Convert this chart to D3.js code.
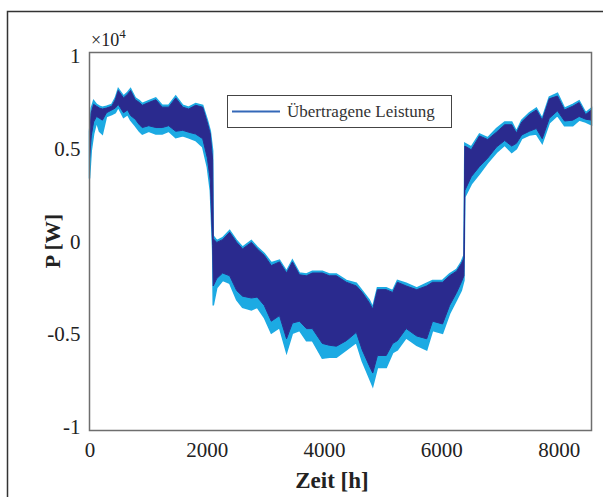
<!DOCTYPE html>
<html>
<head>
<meta charset="utf-8">
<script src="https://cdn.jsdelivr.net/npm/d3@7"></script>
<style>
  body { margin: 0; background: #fff; }
  svg { display: block; }
</style>
</head>
<body>
<svg></svg>
<script>
// Stunden im Jahr (Stützstellen)
let hours = [0, 30, 70, 120, 170, 220, 290, 380, 440, 490, 580, 650, 700, 780, 850, 900, 1010, 1130, 1240, 1350,
    1470, 1590, 1690, 1810, 1930, 2010, 2060, 2100, 2110, 2170, 2270, 2390, 2510, 2610, 2760, 2860, 2980, 3100,
    3240, 3360, 3460, 3580, 3700, 3800, 3970, 4090, 4210, 4380, 4550, 4650, 4770, 4830, 4910, 5060, 5170, 5250,
    5400, 5580, 5750, 5850, 6020, 6140, 6260, 6340, 6385, 6400, 6510, 6650, 6790, 6940, 7080, 7200, 7280, 7370,
    7500, 7620, 7720, 7840, 7980, 8100, 8240, 8350, 8460, 8560];

// äussere Hülle (hellblau), Leistung in W
let outerTop = [5950, 7200, 7600, 7400, 7300, 7250, 7300, 7400, 7750, 8250, 7850, 8050, 8250, 7750, 7600, 7450, 7600, 7750, 7350, 7350,
    7850, 7350, 7250, 7450, 7350, 6550, 5950, 4900, 300, 50, 200, 600, 50, -300, 50, -300, -650, -1150,
    -1000, -1600, -1000, -1700, -1750, -1600, -1600, -1750, -1750, -2100, -2250, -2650, -3150, -3550, -2500, -2500, -2650, -2100,
    -2250, -2500, -2250, -2100, -2100, -1750, -1500, -1100, -750, 5300, 5100, 5800, 5600, 6100, 6450, 6450, 5950, 6550,
    6950, 7200, 6650, 7800, 8000, 7200, 7400, 7600, 6950, 7200];
let outerBottom = [3400, 4900, 5800, 6450, 5950, 5800, 6750, 6850, 6950, 7250, 6700, 6850, 6550, 6250, 5950, 5800, 5950, 5800, 5800, 5950,
    5600, 5700, 5600, 5450, 5100, 4000, 2750, -500, -3450, -2500, -2100, -2250, -3150, -3550, -3700, -3550, -4100, -4950,
    -4650, -6000, -4950, -4800, -5350, -5350, -6300, -6250, -6250, -5850, -5450, -6450, -7350, -7800, -6800, -6800, -6000, -5850,
    -5200, -5600, -5850, -4800, -4950, -3900, -3150, -2650, -2100, 2400, 3100, 3650, 4250, 4800, 5200, 4800, 5000, 5550,
    5750, 5800, 5300, 6400, 6800, 6250, 6250, 6550, 6450, 6300];

// innere Hülle (dunkelblau)
let innerTop = [5700, 6950, 7400, 7300, 7200, 7150, 7200, 7300, 7650, 8150, 7750, 7950, 8150, 7650, 7500, 7350, 7500, 7650, 7250, 7250,
    7750, 7250, 7150, 7350, 7250, 6400, 5800, 4400, 150, -50, 100, 500, -50, -400, -50, -400, -750, -1300,
    -1100, -1700, -1100, -1800, -1850, -1700, -1700, -1850, -1850, -2200, -2400, -2750, -3300, -3650, -2600, -2600, -2750, -2200,
    -2400, -2600, -2400, -2200, -2200, -1850, -1600, -1200, -900, 5150, 4950, 5700, 5500, 5900, 6300, 6300, 5850, 6450,
    6850, 7100, 6550, 7700, 7850, 7100, 7300, 7500, 6850, 7100];
let innerBottom = [4400, 5700, 6450, 6750, 6650, 6550, 6950, 7100, 7200, 7400, 6950, 7100, 6800, 6600, 6300, 6150, 6250, 6150, 6150, 6250,
    5950, 6000, 5900, 5800, 5550, 4500, 3300, -200, -2400, -2000, -1700, -1850, -2650, -2950, -3050, -3000, -3450, -4300,
    -4000, -5250, -4400, -4300, -4700, -4700, -5500, -5600, -5650, -5350, -4900, -5850, -6700, -7100, -6150, -6150, -5500, -5350,
    -4700, -5100, -5250, -4300, -4450, -3450, -2750, -2200, -1850, 2750, 3500, 4050, 4500, 5100, 5450, 5150, 5300, 5750,
    5950, 6100, 5550, 6650, 7050, 6500, 6550, 6750, 6600, 6550];

let xTicks = [0, 2000, 4000, 6000, 8000];
let yTicks = [-10000, -5000, 0, 5000, 10000];
let yTickLabels = ["-1", "-0.5", "0", "0.5", "1"];
let legendLabel = "Übertragene Leistung";

let width = 603;
let height = 497;
let plotLeft = 89.5, plotRight = 591.5, plotTop = 52.5, plotBottom = 430.5;

let serif = "'Liberation Serif', 'Times New Roman', serif";

let svg = d3.select("svg")
    .attr("width", width)
    .attr("height", height);

let xScale = d3.scaleLinear().domain([0, 8560]).range([plotLeft, plotRight]);
let yScale = d3.scaleLinear().domain([-10200, 10200]).range([plotBottom, plotTop]);

let rows = hours.map((h, i) => ({
    h: h, ot: outerTop[i], ob: outerBottom[i], it: innerTop[i], ib: innerBottom[i]
}));

// äusserer Rahmen der Abbildung
svg.append("rect")
   .attr("x", 7.5).attr("y", 11.5)
   .attr("width", 700).attr("height", 600)
   .attr("fill", "none")
   .attr("stroke", "#333")
   .attr("stroke-width", 1.5);

let defs = svg.append("defs");
defs.append("filter").attr("id", "soft")
    .append("feGaussianBlur").attr("stdDeviation", 0.7);

let outerArea = d3.area()
    .x(d => xScale(d.h))
    .y0(d => yScale(d.ob))
    .y1(d => yScale(d.ot));

let innerArea = d3.area()
    .x(d => xScale(d.h))
    .y0(d => yScale(d.ib))
    .y1(d => yScale(d.it));

svg.append("path")
   .datum(rows)
   .attr("d", outerArea)
   .attr("fill", "#1eaae3")
   .attr("stroke", "#1eaae3")
   .attr("stroke-width", 1.5)
   .attr("filter", "url(#soft)");

svg.append("path")
   .datum(rows)
   .attr("d", innerArea)
   .attr("fill", "#2b2c8e")
   .attr("stroke", "#2b2c8e")
   .attr("stroke-width", 1)
   .attr("filter", "url(#soft)");

// Achsenrahmen
svg.append("rect")
   .attr("x", plotLeft).attr("y", plotTop)
   .attr("width", plotRight - plotLeft).attr("height", plotBottom - plotTop)
   .attr("fill", "none")
   .attr("stroke", "#6e6e6e")
   .attr("stroke-width", 1.5);

let xAxis = d3.axisBottom(xScale)
    .tickValues(xTicks)
    .tickSize(0)
    .tickPadding(12)
    .tickFormat(d3.format("d"));

let gx = svg.append("g")
   .attr("transform", `translate(0, ${plotBottom})`)
   .call(xAxis);
gx.select(".domain").remove();
gx.selectAll("text")
  .attr("font-family", serif)
  .attr("font-size", 21)
  .attr("fill", "#222");

let yAxis = d3.axisLeft(yScale)
    .tickValues(yTicks)
    .tickSize(0)
    .tickPadding(9)
    .tickFormat((d, i) => yTickLabels[i]);

let gy = svg.append("g")
   .attr("transform", `translate(${plotLeft}, 0)`)
   .call(yAxis);
gy.select(".domain").remove();
gy.selectAll("text")
  .attr("font-family", serif)
  .attr("font-size", 21)
  .attr("fill", "#222");

// Exponent
let expo = svg.append("text")
   .attr("x", 91).attr("y", 46)
   .attr("font-family", serif)
   .attr("font-size", 18)
   .attr("fill", "#222")
   .text("×10");
expo.append("tspan")
   .attr("dy", -8)
   .attr("font-size", 13)
   .text("4");

svg.append("text")
   .attr("transform", "translate(60, 241) rotate(-90)")
   .attr("text-anchor", "middle")
   .attr("font-family", serif)
   .attr("font-size", 22)
   .attr("font-weight", "bold")
   .attr("fill", "#222")
   .text("P [W]");

svg.append("text")
   .attr("x", 332).attr("y", 488)
   .attr("text-anchor", "middle")
   .attr("font-family", serif)
   .attr("font-size", 23)
   .attr("font-weight", "bold")
   .attr("fill", "#222")
   .text("Zeit [h]");

// Legende
let legend = svg.append("g");
legend.append("rect")
   .attr("x", 227.5).attr("y", 95.5)
   .attr("width", 224).attr("height", 32)
   .attr("fill", "#fff")
   .attr("stroke", "#444")
   .attr("stroke-width", 1);
legend.append("line")
   .attr("x1", 232).attr("x2", 280)
   .attr("y1", 111.5).attr("y2", 111.5)
   .attr("stroke", "#3468b8")
   .attr("stroke-width", 2);
legend.append("text")
   .attr("x", 287).attr("y", 117)
   .attr("font-family", serif)
   .attr("font-size", 17)
   .attr("fill", "#333")
   .text(legendLabel);
</script>
</body>
</html>
